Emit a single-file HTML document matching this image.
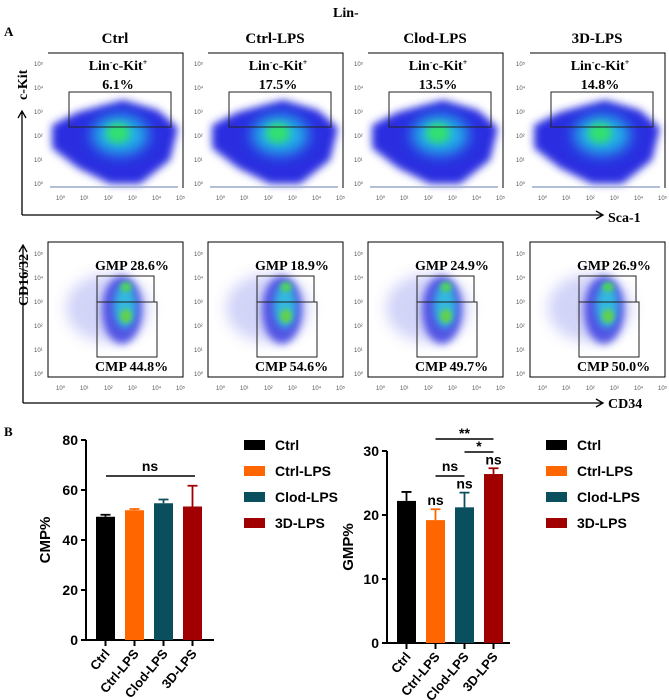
<!DOCTYPE html>
<html><head><meta charset="utf-8"><style>
html,body{margin:0;padding:0;background:#fff}
svg{display:block;font-family:"Liberation Sans",Arial,sans-serif}
.serif{font-family:"Liberation Serif","Times New Roman",serif;font-weight:bold}
</style></head><body>
<svg id="fig" width="669" height="700" viewBox="0 0 669 700" xmlns="http://www.w3.org/2000/svg">
<defs>
<filter id="b4" x="-50%" y="-50%" width="200%" height="200%"><feGaussianBlur stdDeviation="4"/></filter>
<filter id="b2" x="-50%" y="-50%" width="200%" height="200%"><feGaussianBlur stdDeviation="2.5"/></filter>
<filter id="b7" x="-50%" y="-50%" width="200%" height="200%"><feGaussianBlur stdDeviation="7"/></filter>
</defs>
<g class="serif">
<text x="4" y="36" font-size="13">A</text>
<text x="333" y="17" font-size="14">Lin-</text>
</g>
<g id="panelA"></g>
<g id="axesA">
<path d="M22 215 H602 M596 211 L603 215 L596 219" stroke="#000" stroke-width="1.3" fill="none"/>
<path d="M22 215 V112 M18 118 L22 111 L26 118" stroke="#000" stroke-width="1.3" fill="none"/>
<text class="serif" x="608" y="222" font-size="14">Sca-1</text>
<text class="serif" x="27" y="100" font-size="14" transform="rotate(-90 27 100)">c-Kit</text>
<path d="M23 403 H602 M596 399 L603 403 L596 407 M23 403 V246 M19 252 L23 245 L27 252" stroke="#000" stroke-width="1.3" fill="none"/>
<text class="serif" x="608" y="408" font-size="14">CD34</text>
<text class="serif" x="28" y="306" font-size="14" transform="rotate(-90 28 306)">CD16/32</text>
</g>
<text class="serif" x="4" y="436" font-size="13">B</text>
<g id="chart1"></g>
<g id="chart2"></g>
</svg>
<script>
const NS="http://www.w3.org/2000/svg";
function mk(p,tag,at){const e=document.createElementNS(NS,tag);for(const k in at)e.setAttribute(k,at[k]);p.appendChild(e);return e;}

// Panel A
const groups=["Ctrl","Ctrl-LPS","Clod-LPS","3D-LPS"];
const topPcts=["6.1%","17.5%","13.5%","14.8%"];
const gmpPcts=["28.6%","18.9%","24.9%","26.9%"];
const cmpPcts=["44.8%","54.6%","49.7%","50.0%"];
const plotX=[48,208,368,530];
const pa=document.getElementById('panelA');
plotX.forEach((x0,i)=>{
  const g=mk(pa,'g',{});
  
  
  const t=mk(g,'text',{x:x0+67,y:43,'font-size':15,'text-anchor':'middle',class:'serif'});
  t.textContent=groups[i];
  
  
  mk(g,'path',{d:`M${x0} 53 H${x0+135} V188`,stroke:'#000','stroke-width':1,fill:'none'});
  mk(g,'path',{d:`M${x0+4} 125 L${x0+30} 112 L${x0+75} 100 L${x0+110} 110 L${x0+130} 128 L${x0+122} 160 L${x0+92} 184 L${x0+62} 184 L${x0+30} 168 L${x0+4} 148 Z`,fill:'#2a2ee0',filter:'url(#b4)'});
  mk(g,'ellipse',{cx:x0+72,cy:135,rx:28,ry:20,fill:'#20b0e8',filter:'url(#b7)'});
  mk(g,'ellipse',{cx:x0+70,cy:133,rx:12,ry:10,fill:'#30e070',filter:'url(#b4)'});
  mk(g,'line',{x1:x0+2,y1:187,x2:x0+130,y2:187,stroke:'#9ac',"stroke-width":1.5});
  mk(g,'rect',{x:x0+21,y:92,width:102,height:35,fill:'none',stroke:'#222','stroke-width':1});
  const l1=mk(g,'text',{x:x0+70,y:70,'font-size':14,'text-anchor':'middle',class:'serif'});
  l1.innerHTML='Lin<tspan font-size="8" dy="-5">-</tspan><tspan dy="5">c-Kit</tspan><tspan font-size="8" dy="-5">+</tspan>';
  
  
  const l2=mk(g,'text',{x:x0+70,y:89,'font-size':14,'text-anchor':'middle',class:'serif'});
  l2.textContent=topPcts[i];
  
  
  ['10⁰','10¹','10²','10³','10⁴','10⁵'].forEach((s,k)=>{
    const tt=mk(g,'text',{x:x0+8+k*24,y:200,'font-size':6,fill:'#555'});tt.textContent=s;
    const ty=mk(g,'text',{x:x0-14,y:186-k*24,'font-size':6,fill:'#555'});ty.textContent=s;
    const tb=mk(g,'text',{x:x0+8+k*24,y:390,'font-size':6,fill:'#555'});tb.textContent=s;
    const tc=mk(g,'text',{x:x0-14,y:376-k*24,'font-size':6,fill:'#555'});tc.textContent=s;
  });
  const g2=mk(pa,'g',{});
  
  
  mk(g2,'path',{d:`M${x0} 242 V377 H${x0+135} V242 Z`,stroke:'#000','stroke-width':1,fill:'none'});
  mk(g2,'ellipse',{cx:x0+60,cy:308,rx:42,ry:34,fill:'#6a70e8',opacity:0.3,filter:'url(#b7)'});
  mk(g2,'ellipse',{cx:x0+74,cy:310,rx:20,ry:34,fill:'#3a3ee0',opacity:0.85,filter:'url(#b4)'});
  mk(g2,'ellipse',{cx:x0+77,cy:306,rx:11,ry:22,fill:'#30b8e0',filter:'url(#b4)'});
  mk(g2,'ellipse',{cx:x0+78,cy:287,rx:6,ry:5,fill:'#50d060',filter:'url(#b2)'});
  mk(g2,'ellipse',{cx:x0+78,cy:316,rx:6,ry:7,fill:'#60d050',filter:'url(#b2)'});
  mk(g2,'rect',{x:x0+49,y:276,width:57,height:26,fill:'none',stroke:'#222','stroke-width':1});
  mk(g2,'rect',{x:x0+49,y:302,width:60,height:55,fill:'none',stroke:'#222','stroke-width':1});
  const gl=mk(g2,'text',{x:x0+47,y:270,'font-size':14,class:'serif'});gl.textContent='GMP '+gmpPcts[i];
  
  
  const cl=mk(g2,'text',{x:x0+47,y:371,'font-size':14,class:'serif'});cl.textContent='CMP '+cmpPcts[i];
  
  
});

// Panel B data
const cats=["Ctrl","Ctrl-LPS","Clod-LPS","3D-LPS"];
const colors=["#000000","#ff6600","#0a4f5e","#a00000"];
const cmpVals=[49.3,51.9,54.7,53.4];
const cmpErr=[0.8,0.5,1.5,8.3];
const cmpTicks=[0,20,40,60,80];
const gmpVals=[22.2,19.2,21.2,26.4];
const gmpErr=[1.4,1.7,2.3,0.9];
const gmpTicks=[0,10,20,30];

function barChart(id,vals,errs,ticks,ymax,ax,y0,ytop,xEnd,ylabel,lx,ly,legX,legY,sig){
  const root=document.getElementById(id);
  
  
  const ys=v=>y0-(v/ymax)*(y0-ytop);
  const bw=19,step=29,first=ax+10;
  const xs=i=>first+i*step;
  mk(root,'line',{x1:ax,y1:ytop,x2:ax,y2:y0+1,stroke:'#000','stroke-width':2});
  mk(root,'line',{x1:ax-1,y1:y0,x2:xEnd,y2:y0,stroke:'#000','stroke-width':2});
  ticks.forEach(t=>{
    mk(root,'line',{x1:ax-5,y1:ys(t),x2:ax,y2:ys(t),stroke:'#000','stroke-width':2});
    const tx=mk(root,'text',{x:ax-8,y:ys(t)+5,'font-size':14,'font-weight':'bold','text-anchor':'end'});
    tx.textContent=t;
    
    
  });
  const yl=mk(root,'text',{x:lx,y:ly,'font-size':15,'font-weight':'bold','text-anchor':'middle',transform:`rotate(-90 ${lx} ${ly})`});
  yl.textContent=ylabel;
  
  
  vals.forEach((v,i)=>{
    const x=xs(i);
    const r=mk(root,'rect',{x:x,y:ys(v),width:bw,height:y0-ys(v),fill:colors[i]});
    
    
    const cx=x+bw/2;
    mk(root,'path',{d:`M${cx} ${ys(v)} V${ys(v+errs[i])} M${cx-5} ${ys(v+errs[i])} H${cx+5}`,stroke:colors[i],'stroke-width':1.8,fill:'none'});
    mk(root,'line',{x1:cx,y1:y0,x2:cx,y2:y0+6,stroke:'#000','stroke-width':2});
    const lt=mk(root,'text',{x:cx+5,y:y0+14,'font-size':13,'font-weight':'bold','text-anchor':'end',transform:`rotate(-50 ${cx+5} ${y0+14})`});
    lt.textContent=cats[i];
    
    
    mk(root,'rect',{x:legX,y:legY+i*26-5,width:21,height:10,fill:colors[i]});
    const lg=mk(root,'text',{x:legX+31,y:legY+i*26+5,'font-size':14,'font-weight':'bold'});
    lg.textContent=cats[i];
    
    
  });
  sig(root,xs,bw,ys);
}
barChart('chart1',cmpVals,cmpErr,cmpTicks,80,86,640,440,214,'CMP%',50,540,244,445,(root,xs,bw)=>{
  mk(root,'line',{x1:106,y1:476,x2:195,y2:476,stroke:'#000','stroke-width':1.5});
  const s=mk(root,'text',{x:150,y:471,'font-size':14,'font-weight':'bold','text-anchor':'middle'});s.textContent='ns';
});
barChart('chart2',gmpVals,gmpErr,gmpTicks,30,387,643,451,510,'GMP%',353,547,546,445,(root,xs,bw,ys)=>{
  const c=i=>xs(i)+bw/2;
  [[1,2,476,'ns'],[2,3,452,'*'],[1,3,439,'**']].forEach(([a,b,y,s])=>{
    mk(root,'line',{x1:c(a),y1:y,x2:c(b),y2:y,stroke:'#000','stroke-width':1.5});
    const t=mk(root,'text',{x:(c(a)+c(b))/2,y:y-(s==='ns'?5:1),'font-size':14,'font-weight':'bold','text-anchor':'middle'});t.textContent=s;
  });
  [1,2,3].forEach(i=>{
    const t=mk(root,'text',{x:c(i),y:ys(gmpVals[i]+gmpErr[i])-4,'font-size':14,'font-weight':'bold','text-anchor':'middle'});t.textContent='ns';
  });
});
</script>
</body></html>
